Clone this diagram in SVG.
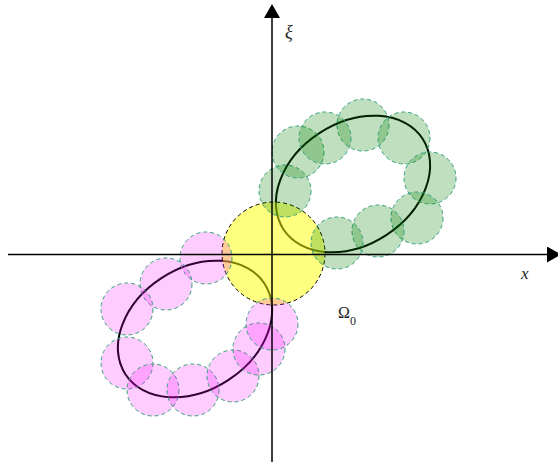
<svg xmlns="http://www.w3.org/2000/svg" width="558" height="464" viewBox="0 0 558 464">
  <style>
    .ell { fill: none; stroke: #000; stroke-width: 2; }
    .g { fill: #008000; fill-opacity: 0.25; stroke: #34a07c; stroke-width: 1; stroke-dasharray: 4 3; }
    .m { fill: #ff00ff; fill-opacity: 0.2; stroke: #34a07c; stroke-width: 1; stroke-dasharray: 4 3; }
    .y { fill: #ffff00; fill-opacity: 0.5; stroke: #000; stroke-width: 1; stroke-dasharray: 4 3; }
    .axis { stroke: #000; stroke-width: 1.5; fill: none; }
    .lbl { font-family: "Liberation Serif", "DejaVu Serif", serif; fill: #222; }
  </style>
  <defs>
    <marker id="arrow" markerUnits="userSpaceOnUse" markerWidth="14" markerHeight="16" refX="0" refY="8" orient="auto">
      <path d="M0,0 L14,8 L0,16 z" fill="#000"/>
    </marker>
  </defs>

  <g id="ellipses">
    <ellipse class="ell" cx="353" cy="184" rx="83" ry="61" transform="rotate(-33 353 184)"/>
    <ellipse class="ell" cx="195" cy="329" rx="83" ry="61" transform="rotate(-33 195 329)"/>
  </g>

  <g id="omega0">
    <circle class="y" cx="273.5" cy="253.5" r="51.5"/>
  </g>

  <g id="green-cover">
    <circle class="g" cx="363" cy="125" r="26"/>
    <circle class="g" cx="404" cy="138" r="26"/>
    <circle class="g" cx="430" cy="178" r="26"/>
    <circle class="g" cx="417" cy="218" r="26"/>
    <circle class="g" cx="378" cy="231" r="26"/>
    <circle class="g" cx="337" cy="243" r="26"/>
    <circle class="g" cx="285" cy="191" r="26"/>
    <circle class="g" cx="298" cy="152" r="26"/>
    <circle class="g" cx="325" cy="138" r="26"/>
  </g>

  <g id="magenta-cover">
    <circle class="m" cx="206" cy="258" r="26"/>
    <circle class="m" cx="166" cy="284" r="26"/>
    <circle class="m" cx="127" cy="309" r="26"/>
    <circle class="m" cx="127" cy="363" r="26"/>
    <circle class="m" cx="153" cy="390" r="26"/>
    <circle class="m" cx="193" cy="390" r="26"/>
    <circle class="m" cx="233" cy="376" r="26"/>
    <circle class="m" cx="259" cy="349" r="26"/>
    <circle class="m" cx="272" cy="324" r="26"/>
  </g>

  <g id="axes">
    <line class="axis" x1="8" y1="254.5" x2="547" y2="254.5" marker-end="url(#arrow)"/>
    <line class="axis" x1="272" y1="462" x2="272" y2="18" marker-end="url(#arrow)"/>
  </g>

  <g id="labels">
    <text class="lbl" x="285" y="38" font-size="18" font-style="italic">ξ</text>
    <text class="lbl" x="521" y="279" font-size="17" font-style="italic">x</text>
    <text class="lbl" x="338" y="318" font-size="16">Ω<tspan font-size="12" dy="7">0</tspan></text>
  </g>
</svg>
